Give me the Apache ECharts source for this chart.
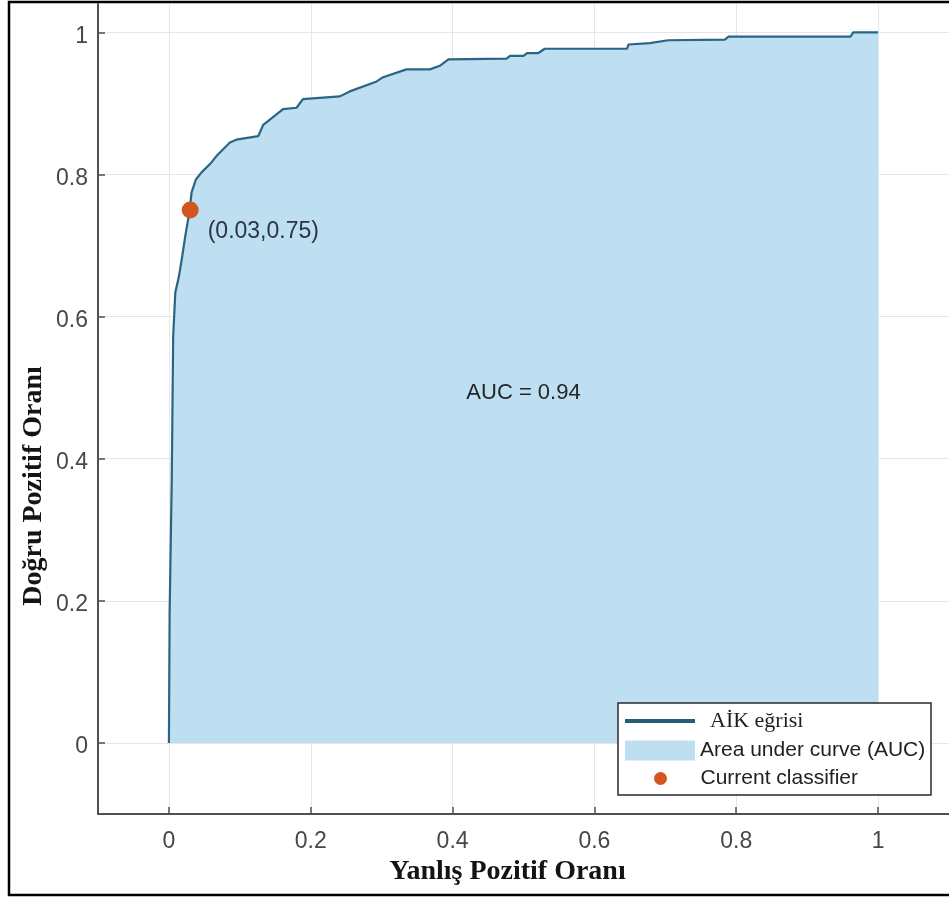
<!DOCTYPE html>
<html>
<head>
<meta charset="utf-8">
<title>AİK eğrisi</title>
<script src="https://cdn.jsdelivr.net/npm/echarts/dist/echarts.min.js"></script>
<style>
  html, body { margin: 0; padding: 0; background: #ffffff; }
  #chart { width: 949px; height: 900px; }
</style>
</head>
<body>
<div id="chart"></div>
<script>
// ROC curve points (false positive rate, true positive rate)
const fprValues = [0, 0.001, 0.004, 0.006, 0.009, 0.011, 0.014, 0.018, 0.023, 0.029,
  0.032, 0.038, 0.046, 0.060, 0.067, 0.086, 0.095, 0.126, 0.133, 0.161,
  0.180, 0.189, 0.241, 0.255, 0.293, 0.302, 0.335, 0.368, 0.382, 0.394,
  0.476, 0.481, 0.500, 0.505, 0.521, 0.530, 0.646, 0.648, 0.678, 0.704,
  0.784, 0.789, 0.961, 0.965, 1.0];
const tprValues = [0, 0.183, 0.370, 0.572, 0.634, 0.635, 0.656, 0.680, 0.713, 0.748,
  0.775, 0.793, 0.803, 0.817, 0.826, 0.845, 0.849, 0.854, 0.870, 0.892,
  0.894, 0.906, 0.910, 0.917, 0.931, 0.937, 0.948, 0.948, 0.953, 0.962,
  0.963, 0.967, 0.967, 0.971, 0.971, 0.977, 0.977, 0.983, 0.985, 0.989,
  0.990, 0.994, 0.994, 1.0, 1.0];

// operating point of the current classifier
const classifierFpr = 0.03;
const classifierTpr = 0.75;

// area under the curve
const aucValue = 0.94;

// tick positions shared by both axes
const tickValues = [0, 0.2, 0.4, 0.6, 0.8, 1];

const seriesNames = ['AİK eğrisi', 'Area under curve (AUC)', 'Current classifier'];

const rocData = fprValues.map((x, i) => [x, tprValues[i]]);

const tickFont = { fontFamily: 'Liberation Sans, Arial, sans-serif', fontSize: 23, color: '#474747' };
const titleFont = {
  fontFamily: 'Liberation Serif, Times New Roman, serif',
  fontWeight: 'bold',
  fontSize: 28,
  color: '#141414'
};
const axisColor = '#505050';
const gridColor = '#e6e6e6';
const curveColor = '#2a6583';
const areaColor = '#bedff2';
const markerColor = '#d2561f';

const chart = echarts.init(document.getElementById('chart'), null, { renderer: 'canvas' });

chart.setOption({
  backgroundColor: '#ffffff',
  animation: false,
  grid: { left: 98, right: 0, top: 4, bottom: 86, containLabel: false },
  xAxis: {
    type: 'value',
    min: -0.1,
    max: 1.1,
    name: 'Yanlış Pozitif Oranı',
    nameLocation: 'middle',
    nameGap: 41,
    nameTextStyle: Object.assign({ padding: [0, 32, 0, 0] }, titleFont),
    axisLine: { show: true, onZero: false, lineStyle: { color: axisColor, width: 2 } },
    axisTick: { show: true, inside: true, length: 7, customValues: tickValues, lineStyle: { color: axisColor, width: 1.5 } },
    axisLabel: Object.assign({ margin: 16, customValues: tickValues }, tickFont),
    splitLine: { show: true, lineStyle: { color: gridColor, width: 1 } }
  },
  yAxis: {
    type: 'value',
    min: -0.1,
    max: 1.04,
    name: 'Doğru Pozitif Oranı',
    nameLocation: 'middle',
    nameGap: 50,
    nameMoveOverlap: false,
    nameRotate: 90,
    nameTextStyle: Object.assign({ padding: [0, 154, 0, 0] }, titleFont),
    axisLine: { show: true, onZero: false, lineStyle: { color: axisColor, width: 2 } },
    axisTick: { show: true, inside: true, length: 7, customValues: tickValues, lineStyle: { color: axisColor, width: 1.5 } },
    axisLabel: {
      margin: 10,
      customValues: tickValues,
      formatter: v => '{v|' + v + '}',
      rich: { v: Object.assign({ padding: [8, 0, 0, 0] }, tickFont) }
    },
    splitLine: { show: true, lineStyle: { color: gridColor, width: 1 } }
  },
  legend: [
    {
      data: [{ name: seriesNames[0], icon: 'rect', itemStyle: { color: '#225e74' } }],
      orient: 'vertical',
      left: 625,
      top: 710,
      padding: 0,
      itemWidth: 70,
      itemHeight: 4,
      selectedMode: false,
      z: 6,
      formatter: name => '{s|' + name + '}',
      textStyle: {
        rich: {
          s: { fontFamily: 'Liberation Serif, Times New Roman, serif', fontSize: 22, color: '#1e1e1e', padding: [0, 0, 0, 10] }
        }
      }
    },
    {
      data: [{ name: seriesNames[1], icon: 'rect', itemStyle: { color: areaColor } }],
      left: 625,
      top: 740,
      padding: 0,
      itemWidth: 70,
      itemHeight: 20,
      selectedMode: false,
      z: 6,
      textStyle: { fontFamily: 'Liberation Sans, Arial, sans-serif', fontSize: 21, color: '#222222' }
    },
    {
      data: [{ name: seriesNames[2], icon: 'circle', itemStyle: { color: markerColor, opacity: 1 } }],
      left: 654,
      top: 768,
      padding: 0,
      itemWidth: 70,
      itemHeight: 13,
      selectedMode: false,
      z: 6,
      textStyle: { fontFamily: 'Liberation Sans, Arial, sans-serif', fontSize: 21, color: '#222222' }
    }
  ],
  graphic: [
    {
      // legend frame
      type: 'rect',
      z: 5,
      shape: { x: 618, y: 703, width: 313, height: 92 },
      style: { fill: '#ffffff', stroke: '#2a2a2a', lineWidth: 1.5 }
    },
    {
      // outer frame
      type: 'rect',
      z: 10,
      silent: true,
      shape: { x: 9, y: 2, width: 960, height: 893 },
      style: { fill: 'none', stroke: '#000000', lineWidth: 2.5 }
    }
  ],
  series: [
    {
      name: seriesNames[1],
      type: 'line',
      data: rocData,
      showSymbol: false,
      symbol: 'none',
      lineStyle: { width: 0, opacity: 0 },
      itemStyle: { color: areaColor },
      areaStyle: { color: areaColor, opacity: 1, origin: 0 },
      z: 1,
      silent: true,
      markPoint: {
        symbol: 'circle',
        symbolSize: 0,
        data: [{ coord: [0.5, 0.492], value: aucValue }],
        label: {
          show: true,
          position: 'inside',
          formatter: p => 'AUC = ' + p.value,
          fontFamily: 'Liberation Sans, Arial, sans-serif',
          fontSize: 22,
          color: '#262626'
        }
      }
    },
    {
      name: seriesNames[0],
      type: 'line',
      data: rocData,
      showSymbol: false,
      symbol: 'none',
      lineStyle: { color: curveColor, width: 2.2 },
      itemStyle: { color: '#225e74' },
      z: 3
    },
    {
      name: seriesNames[2],
      type: 'scatter',
      data: [[classifierFpr, classifierTpr]],
      symbol: 'circle',
      symbolSize: 17,
      itemStyle: { color: markerColor, opacity: 1 },
      z: 4,
      label: {
        show: true,
        position: 'right',
        distance: 5,
        offset: [4, 22],
        formatter: p => '(' + p.value[0] + ',' + p.value[1] + ')',
        fontFamily: 'Liberation Sans, Arial, sans-serif',
        fontSize: 23,
        color: '#2b3440'
      }
    }
  ]
});
</script>
</body>
</html>
